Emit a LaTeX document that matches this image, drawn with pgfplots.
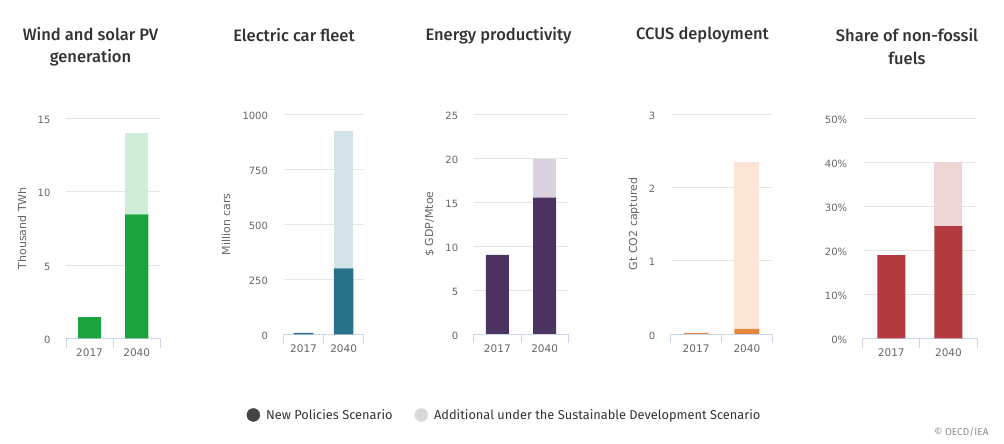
\documentclass[border=0pt]{standalone}
\usepackage{pgfplots}
\pgfplotsset{compat=1.18}
\usepackage{fontspec}
\setmainfont{Fira Sans}
\newfontfamily\tickfont{DejaVu Sans}
\newfontfamily\titlefont{Fira Sans Medium}
\definecolor{gridgray}{HTML}{E6E6E6}
\definecolor{axisblue}{HTML}{CCD6EB}
\definecolor{titlegray}{HTML}{333333}
\definecolor{tickgray}{HTML}{666666}
\definecolor{greenA}{HTML}{1BA33F}
\definecolor{greenB}{HTML}{D0EDD8}
\definecolor{tealA}{HTML}{28738A}
\definecolor{tealB}{HTML}{D4E3E8}
\definecolor{purpA}{HTML}{4B3462}
\definecolor{purpB}{HTML}{DAD3DF}
\definecolor{orA}{HTML}{E3873F}
\definecolor{orB}{HTML}{FAE5D7}
\definecolor{redA}{HTML}{B33A3E}
\definecolor{redB}{HTML}{EED5D6}
\definecolor{legdark}{HTML}{444444}
\definecolor{leglight}{HTML}{D9D9D9}
\pgfplotsset{
  panel/.style={
    scale only axis,
    height=220pt,
    anchor=south west,
    ybar stacked,
    bar width=0.49,
    ymin=0,
    xmin=-0.5, xmax=1.5,
    xtick={0,1},
    xticklabels={2017,2040},
    minor xtick={-0.5,0.5,1.5},
    axis x line*=bottom,
    axis y line*=left,
    y axis line style={draw=none},
    x axis line style={color=axisblue, line width=0.9pt},
    major tick length=0pt,
    minor tick length=9.5pt,
    tick align=outside,
    minor tick style={color=axisblue, line width=0.9pt},
    ytick style={draw=none},
    ymajorgrids,
    major grid style={color=gridgray, line width=0.8pt},
    xticklabel style={font=\tickfont\fontsize{10.5}{12}\selectfont, color=tickgray, yshift=-7pt},
    yticklabel style={font=\tickfont\fontsize{10}{12}\selectfont, color=tickgray, xshift=-12pt, yshift=-1.5pt},
    ylabel style={at={(rel axis cs:0,0.5)}, anchor=center, font=\tickfont\fontsize{11}{13}\selectfont, color=tickgray},
    clip=false,
  },
  barA/.style={draw=none, fill=#1},
}
\begin{document}
\begin{tikzpicture}
\path[use as bounding box] (0pt,0pt) rectangle (1004pt,444pt);
% titles
\begin{scope}[every node/.style={font=\titlefont\fontsize{16.5}{22.5}\selectfont, color=titlegray, align=center}]
\node at (90.5pt,397.5pt) {Wind and solar PV\\generation};
\node at (294pt,408.5pt) {Electric car fleet};
\node at (498.5pt,408.5pt) {Energy productivity};
\node at (702.5pt,408.5pt) {CCUS deployment};
\node at (907pt,397.5pt) {Share of non-fossil\\fuels};
\end{scope}
% panel 1
\begin{axis}[panel, at={(66pt,105.7pt)}, width=94.3pt, ymax=15,
  ytick={0,5,10,15}, yticklabels={0,5,10,15},
  ylabel={Thousand TWh}, ylabel style={yshift=44pt}]
\addplot[barA=greenA] coordinates {(0,1.45) (1,8.45)};
\addplot[barA=greenB] coordinates {(0,0) (1,5.55)};
\end{axis}
% panel 2
\begin{axis}[panel, at={(283.5pt,109.7pt)}, width=80.2pt, ymax=1000,
  ytick={0,250,500,750,1000}, yticklabels={0,250,500,750,1000},
  ylabel={Million cars}, ylabel style={yshift=57.5pt}]
\addplot[barA=tealA] coordinates {(0,6) (1,300)};
\addplot[barA=tealB] coordinates {(0,0) (1,625)};
\end{axis}
% panel 3
\begin{axis}[panel, at={(473.7pt,110pt)}, width=94.6pt, ymax=25,
  ytick={0,5,10,15,20,25}, yticklabels={0,5,10,15,20,25},
  ylabel={\$ GDP/Mtoe}, ylabel style={yshift=44pt},
  legend columns=2,
  legend style={at={(axis description cs:-2.402,-0.368)}, anchor=west, draw=none, fill=none,
    inner sep=0pt, font=\fontsize{12.8}{15}\selectfont, text=titlegray,
    /tikz/every even column/.append style={column sep=20pt},
    /tikz/every odd column/.append style={column sep=4pt}},
  legend cell align=left]
\addlegendimage{legend image code/.code={\fill[legdark] (6.5pt,0pt) circle (6.5pt);}}
\addlegendentry{New Policies Scenario}
\addlegendimage{legend image code/.code={\fill[leglight] (6.5pt,0pt) circle (6.5pt);}}
\addlegendentry{Additional under the Sustainable Development Scenario}
\addplot[barA=purpA] coordinates {(0,9.0) (1,15.5)};
\addplot[barA=purpB] coordinates {(0,0) (1,4.4)};
\end{axis}
% panel 4
\begin{axis}[panel, at={(670.7pt,110pt)}, width=101.6pt, ymax=3,
  ytick={0,1,2,3}, yticklabels={0,1,2,3},
  ylabel={Gt CO2 captured}, ylabel style={yshift=36.5pt}]
\addplot[barA=orA] coordinates {(0,0.015) (1,0.07)};
\addplot[barA=orB] coordinates {(0,0) (1,2.28)};
\end{axis}
% panel 5
\begin{axis}[panel, at={(862.7pt,105.7pt)}, width=114.3pt, ymax=50,
  ytick={0,10,20,30,40,50}, yticklabels={0\%,10\%,20\%,30\%,40\%,50\%}]
\addplot[barA=redA] coordinates {(0,18.9) (1,25.5)};
\addplot[barA=redB] coordinates {(0,0) (1,14.6)};
\end{axis}
\node[anchor=east, font=\fontsize{10}{12}\selectfont, color=black!45] at (992pt,12pt) {\textcopyright{} OECD/IEA};
\end{tikzpicture}
\end{document}
